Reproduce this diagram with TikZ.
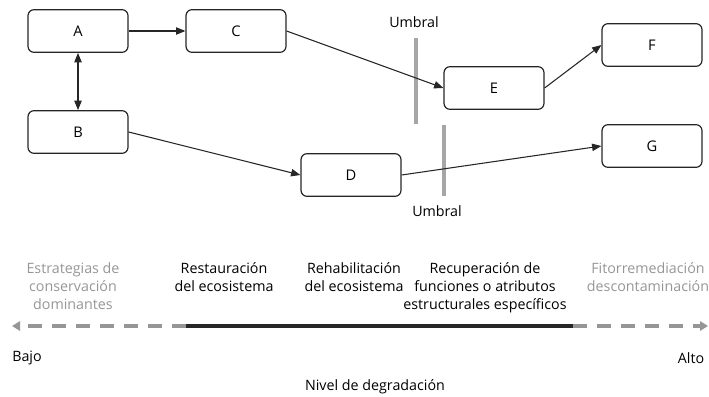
\documentclass[tikz,border=0pt]{standalone}
\usepackage{fontspec}
\setmainfont{Open Sans}
\usetikzlibrary{arrows.meta,positioning}
\tikzset {>={Triangle[length=7pt,width=5.5pt]}}
\definecolor{umbralgris}{RGB}{150,150,150}
\tikzset{
  caja/.style={draw=black!85,rounded corners=4.5pt,line width=0.9pt,minimum width=75pt,minimum height=32pt,font=\fontsize{11}{13}\selectfont},
  etiq/.style={align=center,font=\fontsize{10.7}{13.5}\selectfont},
  umbral/.style={umbralgris!85,line width=2.4pt},
  flecha/.style={->,line width=0.8pt,black!85}
}

\begin{document}
\begin{tikzpicture}[x=0.75pt,y=-0.75pt]
\useasboundingbox (0,0) rectangle (709,396);
% cajas
\node[caja] (A) at (78,31) {A};
\node[caja] (C) at (236,31) {C};
\node[caja] (B) at (78,132) {B};
\node[caja] (D) at (351,175) {D};
\node[caja] (E) at (494,88) {E};
\node[caja] (F) at (652,45) {F};
\node[caja] (G) at (652,146) {G};
% umbrales
\coordinate (U1a) at (416,38);
\coordinate (U1b) at (416,124);
\coordinate (U2a) at (444,125);
\coordinate (U2b) at (444,196);
\draw[umbral] (U1a) -- (U1b);
\draw[umbral] (U2a) -- (U2b);
\node[etiq] (umbral1) at (414,22) {Umbral};
\node[etiq] (umbral2) at (437,211) {Umbral};
% flechas
\draw[flecha] (A.east) -- (C.west);
\draw[flecha,<->] (A.south) -- (B.north);
\draw[flecha] (C.east) -- (E.west);
\draw[flecha] (B.east) -- (D.west);
\draw[flecha] (D.east) -- (G.west);
\draw[flecha] (E.east) -- (F.west);
% eje de degradacion
\coordinate (bajo) at (12,326);
\coordinate (ini) at (186,326);
\coordinate (fin) at (573,326);
\coordinate (alto) at (708,326);
\draw[umbralgris,line width=2.6pt,dash pattern=on 10.5pt off 7.5pt,-{Triangle[length=6pt,width=7pt]}] (ini) -- (bajo);
\draw[umbralgris,line width=2.6pt,dash pattern=on 10.5pt off 7.5pt,-{Triangle[length=6pt,width=7pt]}] (fin) -- (alto);
\draw[black!85,line width=3pt] (ini) -- (fin);
% textos
\node[etiq,text=umbralgris,anchor=north] (estrat) at (73,258) {Estrategias de\\conservación\\dominantes};
\node[etiq,anchor=north] (restau) at (224,258) {Restauración\\del ecosistema};
\node[etiq,anchor=north] (rehab) at (354,258) {Rehabilitación\\del ecosistema};
\node[etiq,anchor=north] (recup) at (485,258) {Recuperación de\\funciones o atributos\\estructurales específicos};
\node[etiq,text=umbralgris,anchor=north] (fito) at (648,258) {Fitorremediación\\descontaminación};
\node[etiq] (bajotxt) at (27,358) {Bajo};
\node[etiq] (altotxt) at (691,358) {Alto};
\node[etiq] (nivel) at (375,387) {Nivel de degradación};
\end{tikzpicture}
\end{document}
